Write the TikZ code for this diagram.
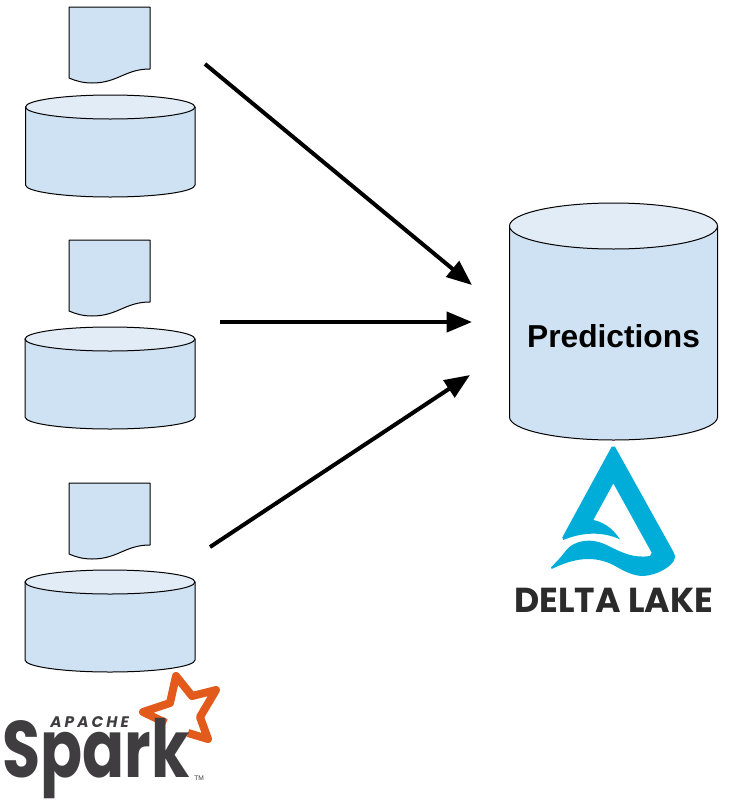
\documentclass[tikz,border=0pt]{standalone}
\usepackage{fontspec}
\setmainfont{Liberation Sans}
\newfontfamily\logofont{Poppins}
\newfontfamily\apachefont[LetterSpace=20]{Poppins}
\usetikzlibrary{arrows.meta,positioning}
\definecolor{drumblue}{HTML}{CFE2F3}
\definecolor{drumtop}{HTML}{E2ECF7}
\definecolor{sparkgrey}{HTML}{3F3D40}
\definecolor{sparkorange}{HTML}{E25A1C}
\definecolor{deltablue}{HTML}{00ADD8}
\definecolor{deltagrey}{HTML}{2B2B2B}
\tikzset{
  flow/.style={line width=3pt,-{Triangle[length=19pt,width=15pt]}},
  shapeline/.style={draw=black,line width=0.75pt,fill=drumblue},
}
% #1 left, #2 right, #3 centre of top ellipse, #4 bottom of side, #5 y radius
\newcommand \mydrum[5]
{
\draw[shapeline] (#1,#3) -- (#1,#4) arc[start angle=180,end angle=0,x radius={(#2-#1)/2},y radius=#5]
  -- (#2,#3) -- cycle;
\draw[shapeline,fill=drumtop] ({(#1+#2)/2},#3) ellipse ({(#2-#1)/2} and #5);
}
% #1 top of the sheet
\newcommand \mydoc[1]
{
\draw[shapeline] (69,#1) -- (150,#1) -- (150,#1+62)
  .. controls (125,#1+62) and (118,#1+76) .. (92,#1+76)
  .. controls (83,#1+76) and (76,#1+74) .. (69,#1+71) -- cycle;
}
\begin{document}
\begin{tikzpicture}[x=0.75pt,y=-0.75pt,line join=round]
\useasboundingbox (0,0) rectangle (737,800);
\mydoc{7}
\mydrum{25.5}{195}{107}{185}{12}
\mydoc{240}
\mydrum{25}{195}{339}{417}{12}
\mydoc{483}
\mydrum{25}{195}{582}{660}{12}
\mydrum{509.5}{717.5}{226}{417}{23}
\node[font=\bfseries\fontsize{23.8}{28}\selectfont] (pred) at (613.5,336) {Predictions};
% arrows
\coordinate (s1) at (205,64);
\coordinate (e1) at (472,285);
\coordinate (s2) at (220,322);
\coordinate (e2) at (472,322);
\coordinate (s3) at (210,547);
\coordinate (e3) at (470,375);
\draw[flow] (s1)--(e1);
\draw[flow] (s2)--(e2);
\draw[flow] (s3)--(e3);
% spark logo
\draw[sparkorange,line width=6pt] (166,723)--(143,712)--(170,703)--(176,676)--(192,696)--(216,690)--(200,717)--(208,739)--(188,733);
\node[text=sparkgrey,anchor=base west,inner sep=0pt,xscale=0.775,transform shape,font=\logofont\bfseries\fontsize{60}{64}\selectfont] (spark) at (2,777) {Spark};
\node[text=sparkgrey,anchor=base west,inner sep=0pt,font=\apachefont\bfseries\itshape\fontsize{11.5}{14}\selectfont] (apache) at (50,727) {APACHE};
\node[text=sparkgrey,anchor=base west,inner sep=0pt,font=\fontsize{5}{6}\selectfont] (tm) at (194,780) {TM};
% delta logo
\begin{scope}[shift={(500,430)},scale=1/3]
\fill[deltablue] (335,50) -- (187,322) -- (190,330)
  .. controls (250,305) and (310,305) .. (360,328)
  .. controls (335,290) and (305,275) .. (280,270)
  -- (340,160) -- (455,368) -- (450,378)
  .. controls (400,385) and (370,370) .. (320,345)
  .. controls (280,325) and (225,325) .. (195,365)
  .. controls (180,385) and (165,400) .. (153,412) -- (155,417)
  .. controls (220,385) and (280,375) .. (340,405)
  .. controls (375,425) and (400,438) .. (430,438)
  .. controls (470,435) and (505,415) .. (520,395)
  .. controls (528,380) and (525,372) .. (520,365)
  -- (345,50) -- cycle;
\end{scope}
\node[text=deltagrey,anchor=base west,inner sep=0pt,font=\logofont\bfseries\fontsize{26}{30}\selectfont] (delta) at (514,612) {DELTA LAKE};
\end{tikzpicture}
\end{document}
